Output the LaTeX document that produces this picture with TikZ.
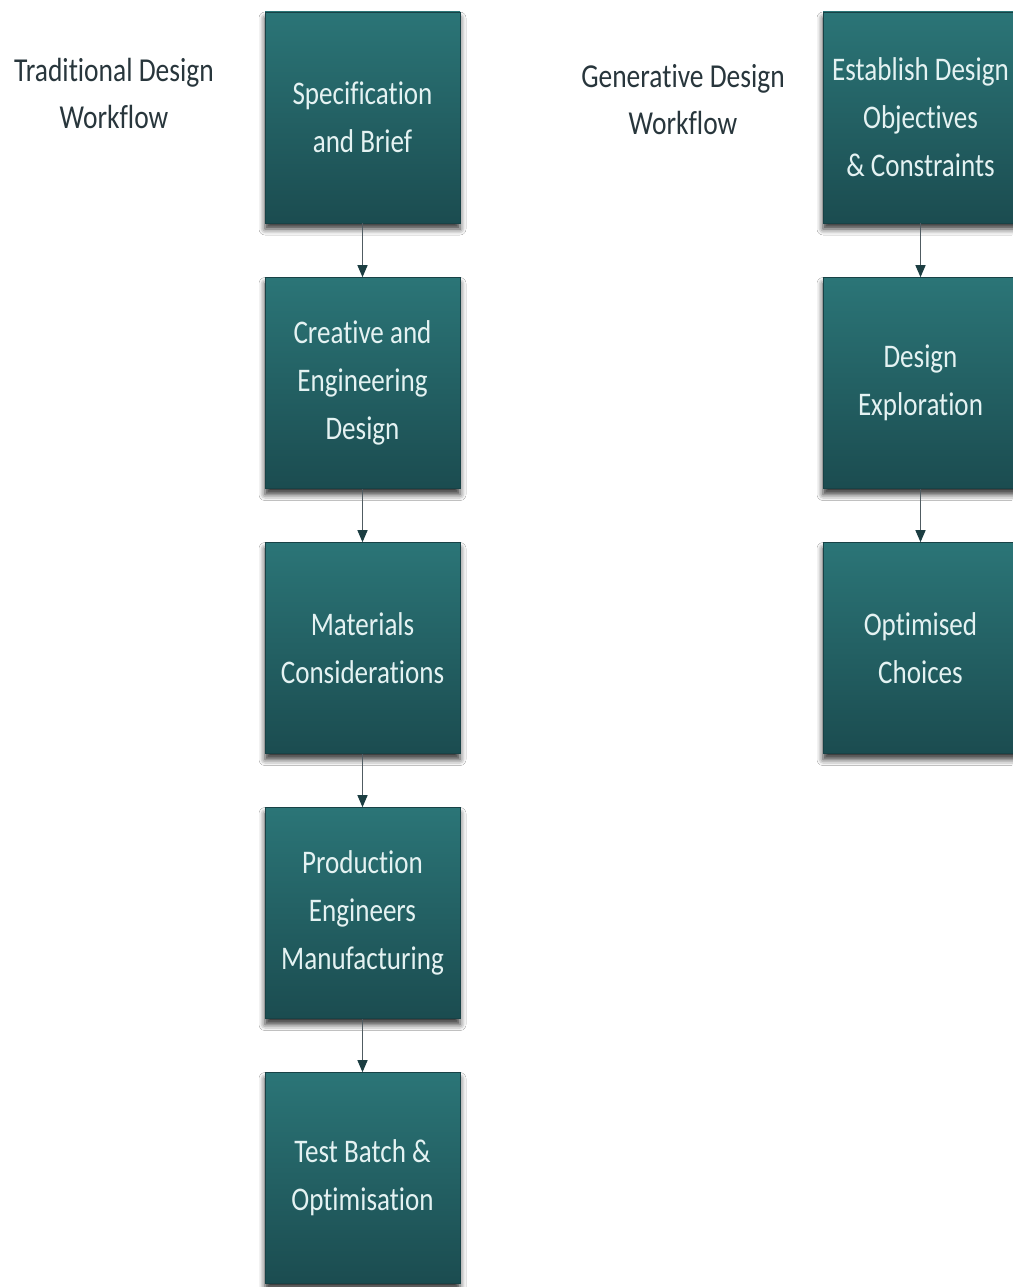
\documentclass[tikz,border=0pt]{standalone}
\usepackage{fontspec}
\newfontfamily\narrowcal[FakeStretch=0.82,RawFeature={-liga,-clig,-calt}]{Carlito}
\usetikzlibrary{arrows.meta,shadows.blur}
\definecolor{tealtop}{RGB}{43,117,119}
\definecolor{tealbot}{RGB}{27,76,80}
\definecolor{tealedge}{RGB}{24,66,70}
\definecolor{boxtext}{RGB}{228,242,242}
\definecolor{labeltext}{RGB}{40,54,60}
\definecolor{arrowcol}{RGB}{80,92,98}
\definecolor{headcol}{RGB}{28,62,66}
\begin{document}
\begin{tikzpicture}[x=1pt,y=-1pt,
  stepbox/.style={rectangle, minimum width=195pt, minimum height=211pt,
    top color=tealtop, bottom color=tealbot, draw=tealedge, line width=0.6pt,
    text=boxtext, align=center, inner sep=4pt,
    font=\narrowcal\fontsize{33}{48}\selectfont,
    blur shadow={shadow xshift=0pt, shadow yshift=-6pt,
      shadow blur radius=6pt, shadow opacity=80}},
  flowlabel/.style={align=center, text=labeltext,
    font=\narrowcal\fontsize{33.5}{47}\selectfont},
  flow/.style={draw=arrowcol, line width=1.2pt,
    -{Triangle[length=12pt,width=10pt,color=headcol]}}]
\useasboundingbox[fill=white] (0,0) rectangle (1012,1287);

% Traditional workflow
\node[flowlabel] (tradlabel) at (114,93) {Traditional Design\\Workflow};
\node[stepbox] (spec) at (362.5,117.5) {Specification\\and Brief};
\node[stepbox] (creative) at (362.5,383) {Creative and\\Engineering\\Design};
\node[stepbox] (materials) at (362.5,648) {Materials\\Considerations};
\node[stepbox] (production) at (362.5,913) {Production\\Engineers\\Manufacturing};
\node[stepbox] (test) at (362.5,1178) {Test Batch \&\\Optimisation};

\draw[flow] (spec) -- (creative);
\draw[flow] (creative) -- (materials);
\draw[flow] (materials) -- (production);
\draw[flow] (production) -- (test);

% Generative workflow
\node[flowlabel] (genlabel) at (683,100) {Generative Design\\Workflow};
\node[stepbox] (objectives) at (920.5,117.5) {Establish Design\\Objectives\\\& Constraints};
\node[stepbox] (exploration) at (920.5,383) {Design\\Exploration};
\node[stepbox] (choices) at (920.5,648) {Optimised\\Choices};

\draw[flow] (objectives) -- (exploration);
\draw[flow] (exploration) -- (choices);
\end{tikzpicture}
\end{document}
